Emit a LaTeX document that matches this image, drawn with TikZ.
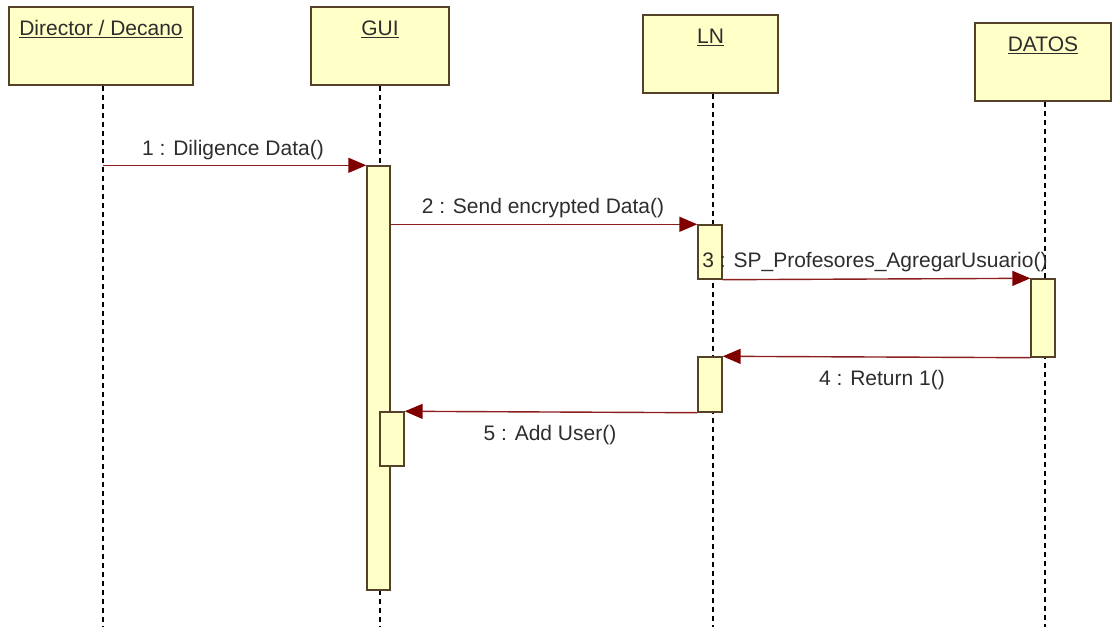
\documentclass[tikz,border=0pt]{standalone}
\usepackage{fontspec}
\setmainfont{Liberation Sans}
\usetikzlibrary{arrows.meta}
\definecolor{boxfill}{RGB}{255,255,200}
\definecolor{boxdraw}{RGB}{85,65,40}
\definecolor{msgcol}{RGB}{140,30,30}
\definecolor{tipcol}{RGB}{128,0,0}
\definecolor{txtcol}{RGB}{45,45,45}
\begin{document}
\begin{tikzpicture}[x=1pt,y=-1pt,
  head/.style={draw=boxdraw, fill=boxfill, line width=1.8pt, inner sep=0pt, minimum height=78pt},
  headtxt/.style={text=txtcol, font=\fontsize{21}{25}\selectfont, inner sep=0pt},
  act/.style={draw=boxdraw, fill=boxfill, line width=1.4pt, inner sep=0pt, minimum width=24pt},
  life/.style={draw=black, line width=1.3pt, dash pattern=on 5pt off 4pt},
  msgline/.style={draw=msgcol, line width=1.4pt, -{Triangle[length=18pt,width=15pt,fill=tipcol,color=tipcol]}},
  msglab/.style={text=txtcol, font=\fontsize{21}{25}\selectfont, inner sep=0pt}]
\useasboundingbox (0,0) rectangle (1112,627);
% header boxes
\node[head, minimum width=184pt] (dir) at (101,46) {};
\node[head, minimum width=138pt] (gui) at (380,46) {};
\node[head, minimum width=135pt] (ln) at (710.5,54) {};
\node[head, minimum width=136pt] (dat) at (1043,62) {};
\node[headtxt] (dirT) at ([yshift=-23pt]dir.north) {\underline{Director / Decano}};
\node[headtxt] (guiT) at ([yshift=-23pt]gui.north) {\underline{GUI}};
\node[headtxt] (lnT) at ([yshift=-23pt]ln.north) {\underline{LN}};
\node[headtxt] (datT) at ([yshift=-23pt]dat.north) {\underline{DATOS}};
% lifeline ends
\coordinate (dirE) at (103,627);
\coordinate (guiE) at (380,627);
\coordinate (lnE) at (713,627);
\coordinate (datE) at (1045,627);
\draw[life] (dir.south -| dirE) -- (dirE);
\draw[life] (gui.south -| guiE) -- (guiE);
\draw[life] (ln.south -| lnE) -- (lnE);
\draw[life] (dat.south -| datE) -- (datE);
% activations
\node[act, minimum width=23pt, minimum height=424pt] (g1) at (378.5,378) {};
\node[act, minimum height=54pt] (g2) at (392,439) {};
\node[act, minimum height=54pt] (l1) at (710,252) {};
\node[act, minimum height=55pt] (l2) at (710,384.5) {};
\node[act, minimum height=78pt] (d1) at (1043,318) {};
% messages
\draw[msgline] (dirE |- g1.north) -- (g1.north west);
\draw[msgline] (g1.east |- l1.north) -- (l1.north west);
\draw[msgline] (l1.south east) -- (d1.north west);
\draw[msgline] (d1.south west) -- (l2.north east);
\draw[msgline] (l2.south west) -- (g2.north east);
% labels
\node[msglab] (m1) at (233,150) {1 : Diligence Data()};
\node[msglab] (m2) at (543,208) {2 : Send encrypted Data()};
\node[msglab] (m3) at (875,262) {3 : SP\_Profesores\_AgregarUsuario()};
\node[msglab] (m4) at (882,380) {4 : Return 1()};
\node[msglab] (m5) at (550,435) {5 : Add User()};
\end{tikzpicture}
\end{document}
